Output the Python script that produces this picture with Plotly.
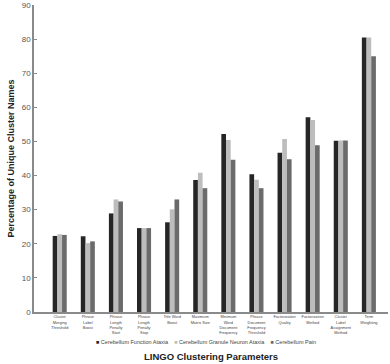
import plotly.graph_objects as go

categories = [
    "Cluster<br>Merging<br>Threshold",
    "Phrase<br>Label<br>Boost",
    "Phrase<br>Length<br>Penalty<br>Start",
    "Phrase<br>Length<br>Penalty<br>Stop",
    "Title Word<br>Boost",
    "Maximum<br>Matrix Size",
    "Minimum<br>Word<br>Document<br>Frequency",
    "Phrase<br>Document<br>Frequency<br>Threshold",
    "Factorization<br>Quality",
    "Factorization<br>Method",
    "Cluster<br>Label<br>Assignment<br>Method",
    "Term<br>Weighting",
]
series_names = ["Cerebellum Function Ataxia", "Cerebellum Granule Neuron Ataxia", "Cerebellum Pain"]
function_ataxia = [22.3, 22.2, 28.9, 24.6, 26.3, 38.7, 52.2, 40.4, 46.7, 57.1, 50.2, 80.5]
granule_ataxia = [22.8, 20.2, 33.0, 24.6, 30.1, 40.8, 50.4, 38.8, 50.7, 56.3, 50.3, 80.5]
pain = [22.6, 20.7, 32.4, 24.6, 33.0, 36.3, 44.6, 36.3, 44.8, 48.9, 50.3, 75.0]
colors = ["#262626", "#bdbdbd", "#6b6b6b"]
y_ticks = [0, 10, 20, 30, 40, 50, 60, 70, 80, 90]

idx = list(range(len(categories)))
fig = go.Figure()
for name, vals, col in zip(series_names, [function_ataxia, granule_ataxia, pain], colors):
    fig.add_trace(go.Bar(
        x=idx, y=vals, name=name, showlegend=False,
        marker=dict(color=col, line=dict(width=0)),
    ))

legend_text = "&nbsp;&nbsp;&nbsp;&nbsp;".join(
    f"<span style='color:{c}'>■</span> {n}" for n, c in zip(series_names, colors)
)

fig.update_layout(
    width=390, height=364,
    margin=dict(l=34, r=2, t=5, b=52),
    paper_bgcolor="white", plot_bgcolor="white",
    barmode="group", bargap=0.5, bargroupgap=0,
    font=dict(family="Liberation Sans, Arial, sans-serif", color="#444"),
    xaxis=dict(
        range=[-0.915, 11.68], automargin=False,
        tickmode="array", tickvals=idx, ticktext=categories,
        tickfont=dict(size=3.9, color="#444"),
        showline=True, linecolor="#8a8a8a", linewidth=1.5,
        ticks="", showgrid=False, zeroline=False, tickangle=0,
    ),
    yaxis=dict(
        range=[0, 90], automargin=False,
        tickmode="array", tickvals=y_ticks,
        tickfont=dict(size=8, color="#555"),
        showline=True, linecolor="#8a8a8a", linewidth=1.5,
        ticks="inside", ticklen=3, tickcolor="#8a8a8a",
        showgrid=False, zeroline=False,
        title=dict(text="<b>Percentage of Unique Cluster Names</b>", font=dict(size=9, color="#222"), standoff=6),
    ),
    annotations=[
        dict(text=legend_text, x=0.485, xref="paper", y=-0.099, yref="paper",
             xanchor="center", yanchor="middle", showarrow=False,
             font=dict(size=5.5, color="#444")),
        dict(text="<b>LINGO Clustering Parameters</b>", x=0.5, xref="paper", y=-0.144, yref="paper",
             xanchor="center", yanchor="middle", showarrow=False,
             font=dict(size=9.5, color="#222")),
    ],
)

fig.write_html("out.html")
